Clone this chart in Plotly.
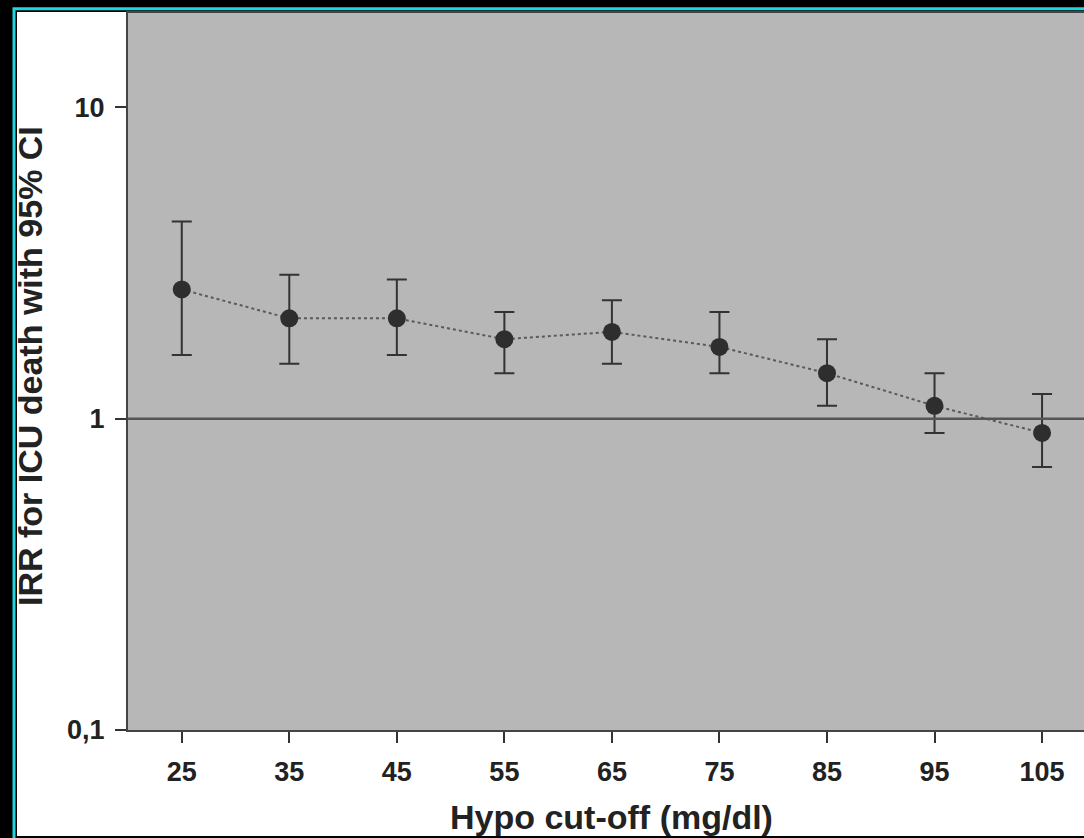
import plotly.graph_objects as go

# Hypoglycaemia cut-off (mg/dl) and incidence rate ratio with 95% CI
cutoff = [25, 35, 45, 55, 65, 75, 85, 95, 105]
irr = [2.6, 2.1, 2.1, 1.8, 1.9, 1.7, 1.4, 1.1, 0.9]
ci_upper = [4.3, 2.9, 2.8, 2.2, 2.4, 2.2, 1.8, 1.4, 1.2]
ci_lower = [1.6, 1.5, 1.6, 1.4, 1.5, 1.4, 1.1, 0.9, 0.7]

y_tickvals = [0.1, 1, 10]
y_ticktext = ["0,1", "1", "10"]
x_tickvals = cutoff

W, H = 1084, 838
ML, MR, MT, MB = 128, 0, 13, 108
PW, PH = W - ML - MR, H - MT - MB


def px_x(p):
    return (p - ML) / PW


def px_y(p):
    return (H - MB - p) / PH


FONT = "Liberation Sans, Arial, sans-serif"
INK = "#222222"

fig = go.Figure()
fig.add_trace(go.Scatter(
    x=cutoff,
    y=irr,
    mode="lines+markers",
    line=dict(color="#5a5a5a", width=2, dash="dot"),
    marker=dict(size=18, color="#2e2e2e", line=dict(width=0)),
    error_y=dict(
        type="data",
        symmetric=False,
        array=[u - v for u, v in zip(ci_upper, irr)],
        arrayminus=[v - l for v, l in zip(irr, ci_lower)],
        color="#333333",
        thickness=2,
        width=10,
    ),
    showlegend=False,
    hoverinfo="skip",
))

# white page with cyan frame on black
fig.add_shape(type="rect", xref="paper", yref="paper", layer="below",
              x0=px_x(17), x1=px_x(1095), y0=px_y(836), y1=px_y(12),
              fillcolor="white", line=dict(width=0))
fig.add_shape(type="rect", xref="paper", yref="paper", layer="below",
              x0=px_x(14), x1=px_x(1095), y0=px_y(845), y1=px_y(8.7),
              fillcolor="rgba(0,0,0,0)", line=dict(color="#1ed6e0", width=3))
# grey plotting area
fig.add_shape(type="rect", xref="paper", yref="paper", layer="below",
              x0=0, x1=1, y0=0, y1=1,
              fillcolor="#b7b7b7", line=dict(width=0))

# reference line at IRR = 1
fig.add_shape(type="line", xref="paper", yref="y", x0=0, x1=1, y0=1, y1=1,
              line=dict(color="#555555", width=2.5))

fig.add_annotation(text="Hypo cut-off (mg/dl)", xref="x", yref="paper",
                   x=65, y=px_y(817), xanchor="center", yanchor="middle",
                   showarrow=False,
                   font=dict(family=FONT, size=34, color=INK, weight="bold"))
fig.add_annotation(text="IRR for ICU death with 95% CI", xref="paper", yref="paper",
                   x=px_x(30), y=px_y(366), xanchor="center", yanchor="middle",
                   textangle=-90, showarrow=False,
                   font=dict(family=FONT, size=34, color=INK, weight="bold"))

fig.update_xaxes(
    range=[20, 108.9],
    tickvals=x_tickvals,
    ticks="outside", ticklen=11, tickwidth=2, tickcolor="#333333",
    ticklabelstandoff=6,
    showline=True, linecolor="#444444", linewidth=2, mirror=True,
    showgrid=False, zeroline=False,
    tickfont=dict(family=FONT, size=27, color=INK, weight="bold"),
)
fig.update_yaxes(
    type="log",
    range=[-1, 1.303],
    tickvals=y_tickvals, ticktext=y_ticktext,
    ticks="outside", ticklen=11, tickwidth=2, tickcolor="#333333",
    ticklabelstandoff=5,
    showline=True, linecolor="#444444", linewidth=2,
    showgrid=False, zeroline=False,
    tickfont=dict(family=FONT, size=27, color=INK, weight="bold"),
)

fig.update_layout(
    width=W, height=H,
    margin=dict(l=ML, r=MR, t=MT, b=MB),
    paper_bgcolor="black",
    plot_bgcolor="rgba(0,0,0,0)",
)

fig.write_html("out.html")
